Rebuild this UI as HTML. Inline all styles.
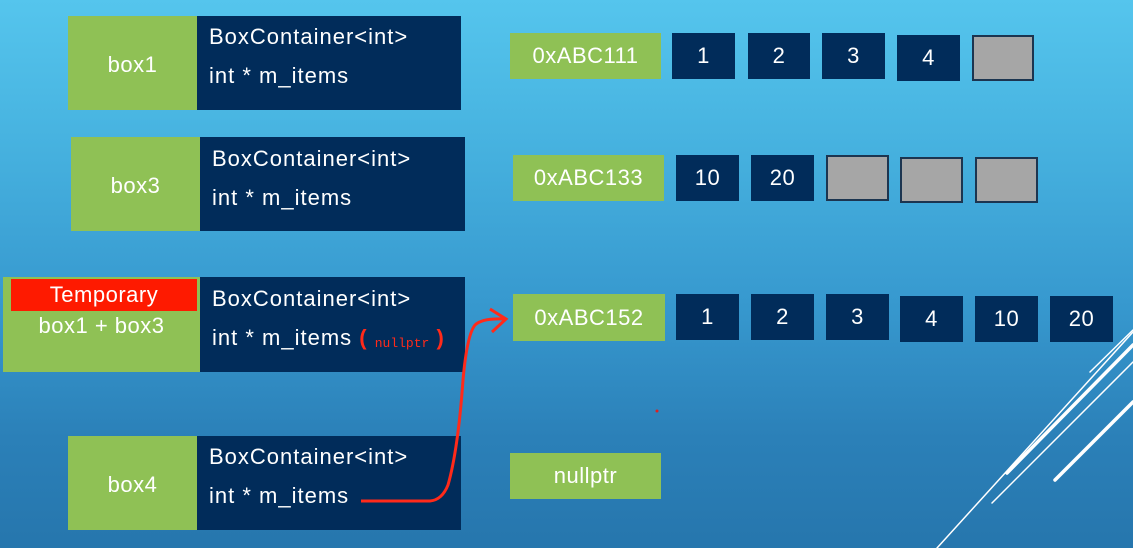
<!DOCTYPE html>
<html><head><meta charset="utf-8"><style>
*{margin:0;padding:0;box-sizing:border-box}
body{width:1133px;height:548px;overflow:hidden;position:relative;font-family:"Liberation Sans",sans-serif;
background:linear-gradient(180deg,#55c5ed 0%,#47b3e0 25%,#3799cf 55%,#2b80b8 80%,#2676ad 100%);}
.a{position:absolute;color:#fff;display:flex;align-items:center;justify-content:center;letter-spacing:0.5px}
.g{background:#8fc155;font-size:22px}
.n{background:#012c5a;font-size:22px}
.gr{background:#a6a6a6;border:2px solid #1c3550}
.nv{position:absolute;background:#012c5a;color:#fff;font-size:22px;letter-spacing:1px}
.nv div{position:absolute;left:12px;white-space:nowrap}
</style></head><body>
<div class="a g" style="left:68px;top:16px;width:129px;height:94px;padding-top:4px">box1</div>
<div class="nv" style="left:197px;top:16px;width:264px;height:94px"><div style="top:8px">BoxContainer&lt;int&gt;</div><div style="top:47px">int * m_items</div></div>

<div class="a g" style="left:71px;top:137px;width:129px;height:94px;padding-top:4px">box3</div>
<div class="nv" style="left:200px;top:137px;width:265px;height:94px"><div style="top:9px">BoxContainer&lt;int&gt;</div><div style="top:48px">int * m_items</div></div>

<div class="a g" style="left:3px;top:277px;width:197px;height:95px;align-items:flex-start;padding-top:36px">box1 + box3</div>
<div class="a" style="left:11px;top:279px;width:186px;height:32px;background:#fe1a00;font-size:22px">Temporary</div>
<div class="nv" style="left:200px;top:277px;width:265px;height:95px"><div style="top:9px">BoxContainer&lt;int&gt;</div><div style="top:48px">int * m_items <span style="color:#ff2a1a;font-weight:bold">(</span> <span style="color:#ff2a1a;font-family:'Liberation Mono',monospace;font-size:13px;letter-spacing:0;position:relative;top:2px">nullptr</span> <span style="color:#ff2a1a;font-weight:bold">)</span></div></div>

<div class="a g" style="left:68px;top:436px;width:129px;height:94px;padding-top:4px">box4</div>
<div class="nv" style="left:197px;top:436px;width:264px;height:94px"><div style="top:8px">BoxContainer&lt;int&gt;</div><div style="top:47px">int * m_items</div></div>

<div class="a g" style="left:510px;top:33px;width:151px;height:46px">0xABC111</div>
<div class="a n" style="left:672px;top:33px;width:63px;height:46px">1</div>
<div class="a n" style="left:748px;top:33px;width:62px;height:46px">2</div>
<div class="a n" style="left:822px;top:33px;width:63px;height:46px">3</div>
<div class="a n" style="left:897px;top:35px;width:63px;height:46px">4</div>
<div class="a gr" style="left:972px;top:35px;width:62px;height:46px"></div>

<div class="a g" style="left:513px;top:155px;width:151px;height:46px">0xABC133</div>
<div class="a n" style="left:676px;top:155px;width:63px;height:46px">10</div>
<div class="a n" style="left:751px;top:155px;width:63px;height:46px">20</div>
<div class="a gr" style="left:826px;top:155px;width:63px;height:46px"></div>
<div class="a gr" style="left:900px;top:157px;width:63px;height:46px"></div>
<div class="a gr" style="left:975px;top:157px;width:63px;height:46px"></div>

<div class="a g" style="left:513px;top:294px;width:152px;height:47px">0xABC152</div>
<div class="a n" style="left:676px;top:294px;width:63px;height:46px">1</div>
<div class="a n" style="left:751px;top:294px;width:63px;height:46px">2</div>
<div class="a n" style="left:826px;top:294px;width:63px;height:46px">3</div>
<div class="a n" style="left:900px;top:296px;width:63px;height:46px">4</div>
<div class="a n" style="left:975px;top:296px;width:63px;height:46px">10</div>
<div class="a n" style="left:1050px;top:296px;width:63px;height:46px">20</div>

<div class="a g" style="left:510px;top:453px;width:151px;height:46px">nullptr</div>

<svg width="1133" height="548" style="position:absolute;left:0;top:0">
<path d="M361 501 L430 501 Q442 500 448 485 Q458 450 463 380 Q467 335 475 325 Q482 318 505 319" stroke="#ff2a1a" stroke-width="3" fill="none"/>
<path d="M490 309 L506 319 L492 332" stroke="#ff2a1a" stroke-width="3" fill="none"/>
<circle cx="657" cy="411" r="1.5" fill="#e02020"/>
<g stroke="#fff" stroke-linecap="round">
<line x1="1090" y1="372" x2="1133" y2="330" stroke-width="1.5"/>
<line x1="1007" y1="473" x2="1133" y2="345" stroke-width="3.5"/>
<line x1="992" y1="503" x2="1133" y2="362" stroke-width="1.5"/>
<line x1="1055" y1="480" x2="1133" y2="402" stroke-width="3.5"/>
<line x1="937" y1="548" x2="1133" y2="332" stroke-width="1.5"/>
</g>
</svg>
</body></html>
